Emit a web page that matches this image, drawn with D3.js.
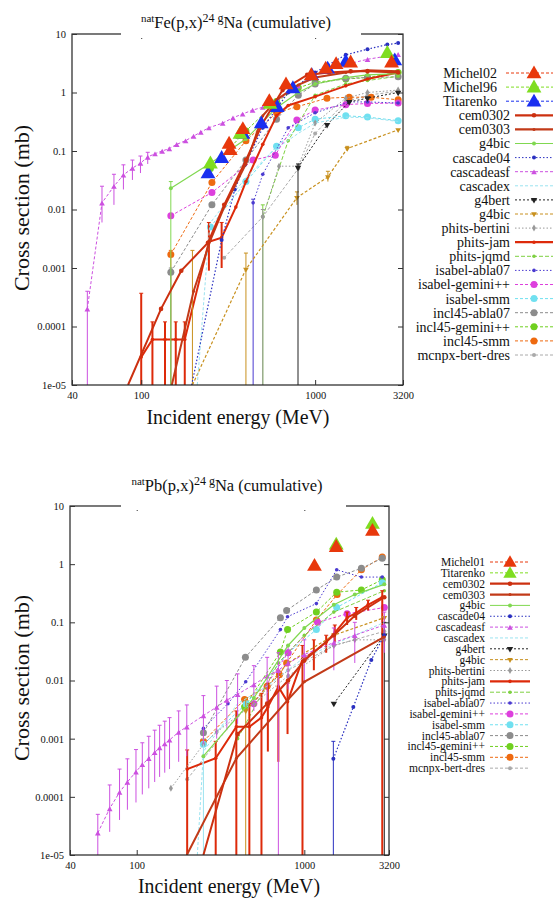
<!DOCTYPE html>
<html><head><meta charset="utf-8">
<script src="https://cdn.jsdelivr.net/npm/d3@7"></script>
<style>
body{margin:0;background:#fff}
svg{display:block}
</style>
</head><body>
<svg id="c" width="555" height="902"></svg>
<script>
const FONT = '"Liberation Serif"';
// ---------- axis ticks ----------
const yTickVals = [10,1,0.1,0.01,0.001,0.0001,0.00001];
const yTickLabels = ["10","1","0.1","0.01","0.001","0.0001","1e-05"];
const xTickVals = [40,100,1000,3200];
const xTickLabels = ["40","100","1000","3200"];

// ---------- natFe(p,x)24Na : [E (MeV), sigma (mb), errLo?, errHi?] ----------
const feMichel02 = [[320,0.135],[325,0.105],[384,0.24],[545,0.72],[680,1.4],[950,2.0],[1150,2.6],[1320,3.1],[1600,3.3],[2750,3.3]];
const feMichel96 = [[250,0.062],[370,0.2],[550,0.65],[2600,4.8]];
const feTitarenko = [[242,0.042],[290,0.077],[384,0.2],[490,0.3],[606,0.57],[745,1.2],[957,2.0],[1180,2.6],[1500,3.4],[2870,3.6]];
const feCem0302 = [[84,1e-5],[130,0.0002],[170,0.0009],[242,0.0027],[300,0.012],[400,0.07],[500,0.3],[650,1.1],[900,2.0],[1200,2.2],[1600,2.3],[2000,2.3],[3000,2.2]];
const feCem0303 = [[150,1e-5],[200,0.0004],[250,0.003],[300,0.011],[400,0.06],[500,0.4],[600,0.75],[800,1.35],[1000,1.8],[1500,2.2],[2000,2.4],[3000,2.3]];
const feG4bic = [[148,0.023,1e-7,0.03],[250,0.062],[400,0.16],[600,0.55],[800,1.0],[1000,1.4],[1500,1.8],[2000,2.0],[3000,2.1]];
const feCascade04 = [[195,1e-5],[290,0.003],[345,0.022],[393,0.057],[500,0.25],[700,1.0],[1000,2.2],[1500,4.4],[2000,5.5],[2600,6.6],[3000,7.0]];
const feCascadeasf = [[49,0.0002,1e-7,0.0004],[59.5,0.013,0.006,0.025],[69.7,0.025,0.012,0.04],[79,0.039,0.022,0.058],[89,0.051,0.032,0.07],[99,0.062,0.042,0.082],[109,0.079,0.06,0.095],[120,0.09],[132,0.1],[145,0.11],[160,0.13],[180,0.15],[200,0.18],[220,0.21],[245,0.25],[294,0.3],[337,0.37],[383,0.43],[437,0.5],[500,0.56],[600,0.7],[800,1.3],[1000,2.0],[1500,3.0],[2000,3.7],[3000,4.5]];
const feCascadex = [[210,1e-5],[248,0.0058],[300,0.012],[400,0.035],[570,0.1],[800,0.2],[1000,0.3],[1500,0.38],[2000,0.37],[3000,0.32]];
const feG4bert = [[797,0.052,1e-7,0.06],[1171,0.28],[1570,0.69],[2000,0.8],[3000,1.0]];
const feG4bic2 = [[197,1e-5,1e-7,0.002],[400,0.00095,1e-7,0.0018],[786,0.016,0.012,0.02],[1184,0.036,0.03,0.045],[1530,0.11,0.1,0.12],[3000,0.23]];
const fePhitsBertini = [[500,0.0075,1e-7,0.01],[620,0.055],[800,0.055],[1000,0.3],[1500,0.8],[2000,1.0],[3000,1.1]];
const fePhitsJam = [[100,3e-5,1e-7,0.00037],[116,6e-5,1e-7,1.2e-4],[137,6e-5,1e-7,1.2e-4],[158,6e-5,1e-7,1.2e-4],[178,6e-5,1e-7,1.2e-4],[245,0.0028,0.0009,0.006],[290,0.0033,0.001,0.006],[350,0.011],[400,0.03],[500,0.13],[600,0.4],[700,0.6],[1000,0.85],[1500,1.3],[2000,1.7],[3000,2.2]];
const fePhitsJqmd = [[500,0.0075,1e-7,0.012],[700,0.15],[1000,0.9],[1500,1.4],[2000,1.6],[3000,1.9]];
const feIsabelAbla07 = [[440,0.013,1e-7,0.015],[500,0.04],[700,0.25],[1000,0.45],[1570,0.69],[2000,0.69],[3000,0.66]];
const feIsabelGemini = [[148,0.0078],[255,0.0195],[440,0.07],[590,0.085],[785,0.34],[1000,0.5],[1500,0.62],[2000,0.65],[3000,0.66]];
const feIsabelSmm = [[250,0.005],[400,0.03],[600,0.12],[800,0.25],[1000,0.35],[1500,0.4],[2000,0.38],[3000,0.33]];
const feIncl45Abla07 = [[148,0.00085,1e-7,0.001],[255,0.012],[400,0.07],[600,0.35],[800,0.9],[1000,1.4],[1500,1.75],[2000,1.8],[3000,1.85]];
const feIncl45Gemini = [[250,0.05],[400,0.22],[600,0.7],[800,1.2],[1000,1.5],[1500,1.7],[2000,1.8],[3000,2.2]];
const feIncl45Smm = [[148,0.0017,1e-7,0.002],[255,0.029],[400,0.15],[600,0.45],[785,0.57],[1170,0.8],[1570,0.83],[2100,0.83],[3000,0.75]];
const feMcnpx = [[300,0.0015],[500,0.0075],[800,0.05],[1000,0.2],[1500,0.7],[2000,0.9],[3000,1.05]];

const feLegend = ["Michel02","Michel96","Titarenko","cem0302","cem0303","g4bic","cascade04","cascadeasf","cascadex","g4bert","g4bic","phits-bertini","phits-jam","phits-jqmd","isabel-abla07","isabel-gemini++","isabel-smm","incl45-abla07","incl45-gemini++","incl45-smm","mcnpx-bert-dres"];
const feKeys = ["michel02","michel96","titarenko","cem0302","cem0303","g4bic","cascade04","cascadeasf","cascadex","g4bert","g4bic2","phitsBertini","phitsJam","phitsJqmd","isabelAbla07","isabelGemini","isabelSmm","inclAbla07","inclGemini","inclSmm","mcnpx"];
const feSeries = [feMichel02,feMichel96,feTitarenko,feCem0302,feCem0303,feG4bic,feCascade04,feCascadeasf,feCascadex,feG4bert,feG4bic2,fePhitsBertini,fePhitsJam,fePhitsJqmd,feIsabelAbla07,feIsabelGemini,feIsabelSmm,feIncl45Abla07,feIncl45Gemini,feIncl45Smm,feMcnpx];

// ---------- natPb(p,x)24Na ----------
const pbMichel01 = [[1150,0.95],[1550,2.0],[2550,3.8]];
const pbTitarenko = [[1550,2.2],[2550,5.0]];
const pbCem0302 = [[250,1e-5],[400,0.0012],[600,0.004],[800,0.01],[1000,0.022],[1500,0.06],[2000,0.13],[3000,0.27]];
const pbCem0303 = [[199,1e-5],[393,0.00046],[790,0.0045],[1000,0.0095],[3000,0.056]];
const pbG4bic = [[250,0.0005],[500,0.005],[800,0.04],[1000,0.08],[1500,0.2],[2000,0.3],[3000,0.45]];
const pbCascade04 = [[1490,0.00045,1e-7,0.0009],[1960,0.0035],[2510,0.0226],[3000,0.06]];
const pbCascadeasf = [[58.6,2.4e-5,1e-7,5e-5],[69,6.3e-5,2.5e-5,1.6e-4],[79,1.2e-4,4e-5,3e-4],[88,1.8e-4,6e-5,4.5e-4],[99,2.7e-4,8e-5,6.5e-4],[108,3.6e-4,1.1e-4,8.5e-4],[118,4.6e-4,1.4e-4,1.1e-3],[128,5.8e-4,1.8e-4,1.4e-3],[137,7e-4,2.2e-4,1.7e-3],[147,8.2e-4,2.6e-4,2e-3],[157,9.5e-4,3e-4,2.3e-3],[178,1.3e-3,4e-4,3e-3],[199,1.6e-3,5e-4,3.8e-3],[250,2.5e-3,8e-4,5.5e-3],[300,3.5e-3,1e-3,8e-3],[345,4.6e-3,1.4e-3,1e-2],[400,5.8e-3,1.8e-3,1.3e-2],[500,0.0085,0.003,0.018],[600,0.012,0.004,0.025],[700,0.015,1e-7,0.03],[800,0.02,0.007,0.04],[1000,0.028,0.01,0.05],[1500,0.045,0.015,0.08],[2000,0.06,0.02,0.1],[3000,0.09,0.03,0.15]];
const pbCascadex = [[230,1e-5],[250,0.0006,1e-7,0.001],[400,0.004],[600,0.008],[1000,0.025],[2000,0.06],[3000,0.1]];
const pbG4bert = [[1500,0.004],[3000,0.06,1e-7,0.1]];
const pbG4bic2 = [[447,0.003,1e-7,0.005],[800,0.02],[1500,0.06],[3000,0.12]];
const pbPhitsBertini = [[160,0.00014],[250,0.0008],[300,0.0013],[500,0.004],[800,0.012],[1500,0.04],[2000,0.05],[3000,0.05]];
const pbPhitsJam = [[200,0.0003,1e-7,0.00064],[296,0.00046,1e-7,0.0009],[393,0.0016,1e-7,0.003],[470,0.0016,1e-7,0.004],[555,0.0023,1e-7,0.006],[606,0.0035,0.0006,0.009],[700,0.0078,0.0004,0.015],[794,0.0043,0.0012,0.009],[975,0.023,1e-7,0.04],[1140,0.031,0.015,0.05],[1350,0.046,0.03,0.06],[1520,0.066,0.045,0.09],[1800,0.12,0.09,0.15],[2040,0.145,0.11,0.18],[2400,0.2,0.16,0.24],[2917,0.27,1e-7,0.35]];
const pbPhitsJqmd = [[400,0.001],[700,0.02],[1000,0.06],[1500,0.15],[3000,0.35]];
const pbIsabelAbla07 = [[250,0.0015],[350,0.004],[447,0.0095],[720,0.075],[794,0.125],[1180,0.21],[1560,0.8],[2190,0.6],[2917,0.6]];
const pbIsabelGemini = [[500,0.004],[800,0.03],[1200,0.1],[1800,0.14],[3000,0.18]];
const pbIsabelSmm = [[250,0.0008],[450,0.004],[800,0.03],[1180,0.075],[1560,0.18],[2917,0.48]];
const pbIncl45Abla07 = [[250,0.00126],[445,0.025],[720,0.12],[784,0.16],[1180,0.36],[1560,0.6],[2190,0.85],[2917,1.26]];
const pbIncl45Gemini = [[440,0.0035],[720,0.031],[794,0.075],[1180,0.15],[1560,0.33],[2190,0.36],[2917,0.54]];
const pbIncl45Smm = [[250,0.0009],[440,0.0047],[600,0.008],[710,0.0125],[784,0.02],[1180,0.11],[1570,0.3],[2190,0.8],[2917,1.33]];
const pbMcnpx = [[200,0.0002],[400,0.0025],[800,0.015],[1500,0.04],[3000,0.07]];

const pbLegend = ["Michel01","Titarenko","cem0302","cem0303","g4bic","cascade04","cascadeasf","cascadex","g4bert","g4bic","phits-bertini","phits-jam","phits-jqmd","isabel-abla07","isabel-gemini++","isabel-smm","incl45-abla07","incl45-gemini++","incl45-smm","mcnpx-bert-dres"];
const pbKeys = ["michel02","titarenkoG","cem0302","cem0303","g4bic","cascade04","cascadeasf","cascadex","g4bert","g4bic2","phitsBertini","phitsJam","phitsJqmd","isabelAbla07","isabelGemini","isabelSmm","inclAbla07","inclGemini","inclSmm","mcnpx"];
const pbSeries = [pbMichel01,pbTitarenko,pbCem0302,pbCem0303,pbG4bic,pbCascade04,pbCascadeasf,pbCascadex,pbG4bert,pbG4bic2,pbPhitsBertini,pbPhitsJam,pbPhitsJqmd,pbIsabelAbla07,pbIsabelGemini,pbIsabelSmm,pbIncl45Abla07,pbIncl45Gemini,pbIncl45Smm,pbMcnpx];

// ---------- styles ----------
const STY = {
  michel02:{c:"#e8380c",dash:"3,2",w:1,m:"tri",ms:95,exp:true},
  michel96:{c:"#7fdd20",dash:"3,2",w:1,m:"tri",ms:95,exp:true},
  titarenko:{c:"#1a2ff0",dash:"2,2",w:1,m:"tri",ms:95,exp:true},
  titarenkoG:{c:"#7fdd20",dash:"3,2",w:1,m:"tri",ms:95,exp:true},
  cem0302:{c:"#cc3010",dash:null,w:2,m:"circle",ms:2.3},
  cem0303:{c:"#c23a18",dash:null,w:2,m:"dot",ms:1.5},
  g4bic:{c:"#80d850",dash:null,w:1.2,m:"dot",ms:2},
  cascade04:{c:"#2a30c0",dash:"1.5,2",w:1.2,m:"dot",ms:2},
  cascadeasf:{c:"#cc50e0",dash:"3,2",w:1,m:"tri",ms:14},
  cascadex:{c:"#9be3f0",dash:"3,2",w:1,m:null,ms:0},
  g4bert:{c:"#222222",dash:"2,2",w:1,m:"dtri",ms:18},
  g4bic2:{c:"#c8901e",dash:"3,2",w:1.2,m:"dtri",ms:14},
  phitsBertini:{c:"#999999",dash:"1.5,2",w:1,m:"diamond",ms:14},
  phitsJam:{c:"#dd2a0a",dash:null,w:2,m:"dot",ms:1.8},
  phitsJqmd:{c:"#7ed040",dash:"4,2",w:1,m:"dot",ms:1.8},
  isabelAbla07:{c:"#4a3ad0",dash:"1.5,2",w:1,m:"dot",ms:1.8},
  isabelGemini:{c:"#dd40dd",dash:"3,2",w:1,m:"circle",ms:3.5},
  isabelSmm:{c:"#70e0f0",dash:"3,2",w:1,m:"circle",ms:3.5},
  inclAbla07:{c:"#8c8c8c",dash:"3,2",w:1,m:"circle",ms:3.5},
  inclGemini:{c:"#70d020",dash:"3,2",w:1,m:"circle",ms:3.5},
  inclSmm:{c:"#ee6a10",dash:"3,2",w:1,m:"circle",ms:3.5},
  mcnpx:{c:"#aaaaaa",dash:"3,2",w:1,m:"dot",ms:2}
};

const svg = d3.select("#c");

function marker(g, s, cx, cy, scale) {
  if (!s.m) return;
  if (s.m === "circle" || s.m === "dot") {
    g.append("circle").attr("cx",cx).attr("cy",cy).attr("r",s.ms*scale).attr("fill",s.c);
  } else {
    const type = s.m === "diamond" ? d3.symbolDiamond : d3.symbolTriangle;
    const rot = s.m === "dtri" ? 180 : 0;
    g.append("path").attr("d", d3.symbol().type(type).size(s.ms*scale*scale)())
      .attr("transform",`translate(${cx},${cy+(s.m==="tri"?1:0)}) rotate(${rot})`)
      .attr("fill",s.c);
  }
}

function txt(sel, size) {
  return sel.style("font-family", FONT).style("font-size", size+"px").style("fill","#111");
}

function drawPanel(P) {
  const g = svg.append("g");
  const x = d3.scaleLog().domain([40,3200]).range([P.x0,P.x1]);
  const y = d3.scaleLog().domain([1e-5,10]).range([P.y1,P.y0]);
  const cid = "clip"+P.id;
  svg.append("clipPath").attr("id",cid).append("rect")
    .attr("x",P.x0).attr("y",P.y0).attr("width",P.x1-P.x0).attr("height",P.y1-P.y0);
  const plot = g.append("g").attr("clip-path",`url(#${cid})`);
  const line = d3.line().x(d=>x(d[0])).y(d=>y(d[1]));

  const order = P.series.map((d,i)=>i).filter(i=>!STY[P.keys[i]].exp).reverse()
      .concat(P.series.map((d,i)=>i).filter(i=>STY[P.keys[i]].exp).reverse());
  order.forEach(i=>{
    const s = STY[P.keys[i]], data = P.series[i];
    const sg = plot.append("g");
    if (!s.exp) {
      sg.append("path").attr("d",line(data)).attr("fill","none")
        .attr("stroke",s.c).attr("stroke-width",s.w)
        .attr("stroke-dasharray",s.dash);
    }
    data.forEach(d=>{
      if (d.length > 2) {
        sg.append("line").attr("x1",x(d[0])).attr("x2",x(d[0]))
          .attr("y1",y(d[2])).attr("y2",y(d[3]))
          .attr("stroke",s.c).attr("stroke-width",s.w>1.5?2:1);
        sg.append("line").attr("x1",x(d[0])-2).attr("x2",x(d[0])+2)
          .attr("y1",y(d[3])).attr("y2",y(d[3])).attr("stroke",s.c);
      }
      if (s.m && !(d[1] <= 1e-5)) marker(sg, s, x(d[0]), y(d[1]), 1);
    });
  });

  // frame
  g.append("rect").attr("x",P.x0).attr("y",P.y0).attr("width",P.x1-P.x0).attr("height",P.y1-P.y0)
    .attr("fill","none").attr("stroke","#222").attr("stroke-width",1.2);

  // axes
  const yl = g.append("g").attr("transform",`translate(${P.x0},0)`)
    .call(d3.axisLeft(y).tickValues(yTickVals).tickFormat((d,i)=>yTickLabels[i]).tickSize(-5).tickPadding(6));
  const yr = g.append("g").attr("transform",`translate(${P.x1},0)`)
    .call(d3.axisRight(y).tickValues(yTickVals).tickFormat("").tickSize(-5));
  const xb = g.append("g").attr("transform",`translate(0,${P.y1})`)
    .call(d3.axisBottom(x).tickValues(xTickVals).tickFormat((d,i)=>xTickLabels[i]).tickSize(-5).tickPadding(7));
  const xt = g.append("g").attr("transform",`translate(0,${P.y0})`)
    .call(d3.axisTop(x).tickValues([100,1000]).tickFormat("").tickSize(-5));
  [yl,yr,xb,xt].forEach(a=>{
    a.attr("font-family", null);
    a.select(".domain").remove();
    a.selectAll(".tick line").attr("stroke","#333");
    txt(a.selectAll("text"), 10.5);
  });

  // title with white box
  g.append("rect").attr("x",P.tx0).attr("y",P.y0-4).attr("width",P.tx1-P.tx0).attr("height",8).attr("fill","#fff");
  const t = txt(g.append("text").attr("x",P.tcx).attr("y",P.ty).attr("text-anchor","middle"), 16.5);
  t.append("tspan").text("nat").style("font-size","11px").attr("dy",-6);
  t.append("tspan").text(P.elem+"(p,x)").attr("dy",6);
  t.append("tspan").text("24").style("font-size","12px").attr("dy",-6);
  t.append("tspan").text(" g").style("font-size","12px");
  t.append("tspan").text("Na (cumulative)").attr("dy",6);

  // axis titles
  txt(g.append("text").attr("transform",`translate(${P.ylx},${P.yly}) rotate(-90)`)
    .attr("text-anchor","middle"), 22).text("Cross section (mb)");
  txt(g.append("text").attr("x",P.xlx).attr("y",P.xly).attr("text-anchor","middle")
    .attr("textLength",P.xlw).attr("lengthAdjust","spacingAndGlyphs"), 22)
    .text("Incident energy (MeV)");

  // legend
  const lg = g.append("g");
  P.legend.forEach((name,i)=>{
    const s = STY[P.keys[i]];
    const ly = P.ly0 + i*P.lstep;
    const tx = s.exp ? P.elx : P.lx, l0 = s.exp ? P.esx0 : P.sx0;
    txt(lg.append("text").attr("x",tx).attr("y",ly).attr("dy","0.35em").attr("text-anchor","end"), P.lfont).text(name);
    lg.append("line").attr("x1",l0).attr("x2",P.sx1).attr("y1",ly).attr("y2",ly)
      .attr("stroke",s.c).attr("stroke-width",s.w>1.5?2.2:1).attr("stroke-dasharray",s.exp?"3,2":s.dash);
    marker(lg, s, (P.sx0+P.sx1)/2, ly, s.exp ? P.lexp : 1);
  });
}

drawPanel({id:"fe", elem:"Fe", x0:72, x1:403, y0:34, y1:385,
  tx0:121, tx1:361, tcx:236, ty:28,
  ylx:29, yly:208, xlx:238, xly:424, xlw:183,
  legend:feLegend, keys:feKeys, series:feSeries,
  lx:510, elx:497, ly0:73, lstep:14.1, lfont:14, sx0:515, esx0:506, sx1:553, lexp:1});

drawPanel({id:"pb", elem:"Pb", x0:70, x1:389, y0:506, y1:855,
  tx0:121, tx1:346, tcx:227, ty:491,
  ylx:29, yly:678, xlx:229, xly:893, xlw:182,
  legend:pbLegend, keys:pbKeys, series:pbSeries,
  lx:485, elx:485, ly0:562, lstep:10.85, lfont:11.5, sx0:490, esx0:490, sx1:530, lexp:0.9});
</script>
</body></html>
